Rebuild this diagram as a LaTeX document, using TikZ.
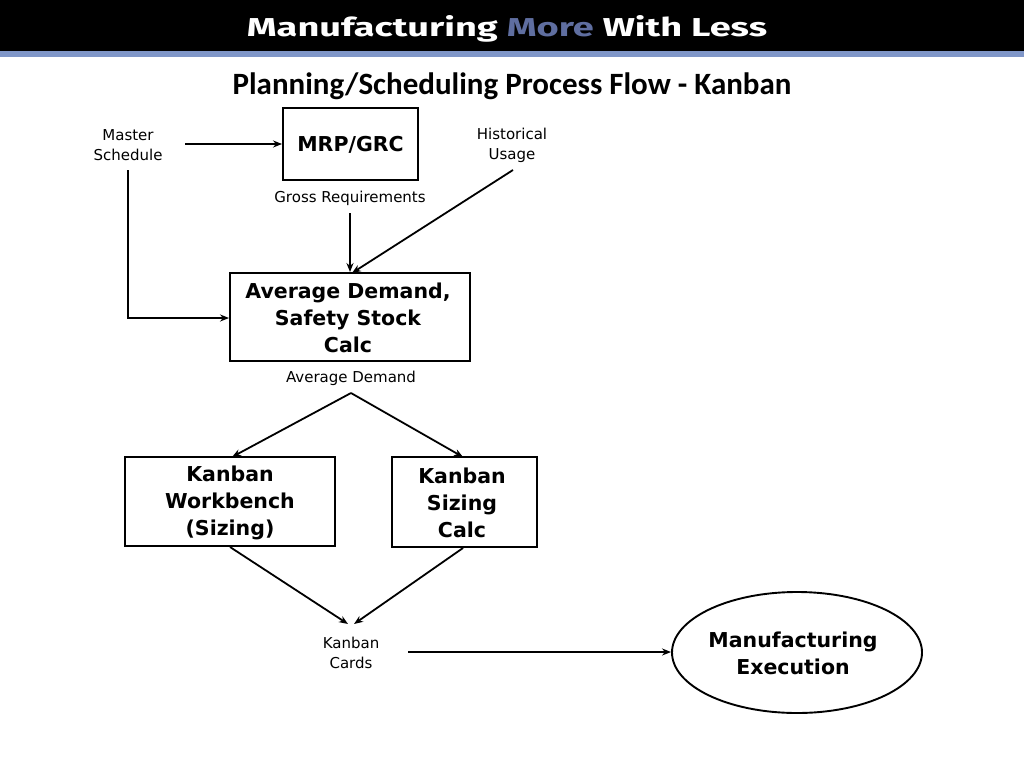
\documentclass[tikz,border=0pt]{standalone}
\usepackage{fontspec}
\setmainfont{DejaVu Sans}
\newfontfamily\titlefont{Carlito}
\newfontfamily\headfont{Fira Sans}
\usetikzlibrary{arrows.meta,shapes.geometric}
\definecolor{bandblue}{RGB}{127,150,200}
\definecolor{moreblue}{RGB}{95,110,160}
\begin{document}
\begin{tikzpicture}[x=1pt,y=-1pt,
  box/.style={draw,line width=1.9pt,inner sep=0pt,align=center},
  boldtxt/.style={font=\fontsize{20.5}{27}\selectfont\bfseries,align=center},
  lbl/.style={font=\fontsize{15}{20}\selectfont,align=center},
  arr/.style={line width=1.8pt,-{Stealth[length=9pt,width=7pt]}}]
\useasboundingbox (0,0) rectangle (1024,768);
\fill[black] (0,0) rectangle (1024,51);
\fill[bandblue] (0,51) rectangle (1024,57);
\node (head) at (507,29) {\resizebox{520pt}{21pt}{\headfont\bfseries\color{white}Manufacturing \textcolor{moreblue}{More} With Less}};
\node (title) at (512,86) {\titlefont\fontsize{31}{34}\selectfont\bfseries Planning/Scheduling Process Flow - Kanban};
% nodes
\node[box,minimum width=135pt,minimum height=72pt] (mrp) at (350.5,144) {};
\node[boldtxt] (mrpt) at (350.5,145) {MRP/GRC};
\node[lbl] (ms) at (128,145) {Master\\Schedule};
\node[lbl] (hu) at (512,145) {Historical\\Usage};
\node[lbl] (gr) at (350,198) {Gross Requirements};
\node[box,minimum width=240pt,minimum height=88pt] (avg) at (350,317) {};
\node[boldtxt] (avgt) at (348,318) {Average Demand,\\Safety Stock\\Calc};
\node[lbl] (ad) at (351,378) {Average Demand};
\node[box,minimum width=210pt,minimum height=89pt] (kw) at (230,501.5) {};
\node[boldtxt] (kwt) at (230,503) {Kanban\\Workbench\\(Sizing)};
\node[box,minimum width=145pt,minimum height=90pt] (ks) at (464.5,502) {};
\node[boldtxt] (kst) at (462,503) {Kanban\\Sizing\\Calc};
\node[lbl] (kc) at (351,653) {Kanban\\Cards};
\node[draw,ellipse,line width=1.9pt,minimum width=250pt,minimum height=121pt,inner sep=0pt] (me) at (797,652.5) {};
\node[boldtxt] (met) at (793,653) {Manufacturing\\Execution};
% coordinates
\coordinate (msr) at (185,144);
\coordinate (msb) at (128,170);
\coordinate (msc) at (128,318);
\coordinate (grb) at (350,213);
\coordinate (hub) at (513,170);
\coordinate (adb) at (351,393);
\coordinate (kwb) at (230,547);
\coordinate (ksb) at (463,548);
\coordinate (kcr) at (408,652);
% connectors
\draw[arr] (msr) -- (mrp.west |- msr);
\draw[arr,line join=miter] (msb) -- (msc) -- (avg.west |- msc);
\draw[arr] (grb) -- (avg.north -| grb);
\draw[arr] (hub) -- (352,273);
\draw[arr] (adb) -- (232,457);
\draw[arr] (adb) -- (463,457);
\draw[arr] (kwb) -- (348,624);
\draw[arr] (ksb) -- (354,624);
\draw[arr] (kcr) -- (me.west |- kcr);
\end{tikzpicture}
\end{document}
